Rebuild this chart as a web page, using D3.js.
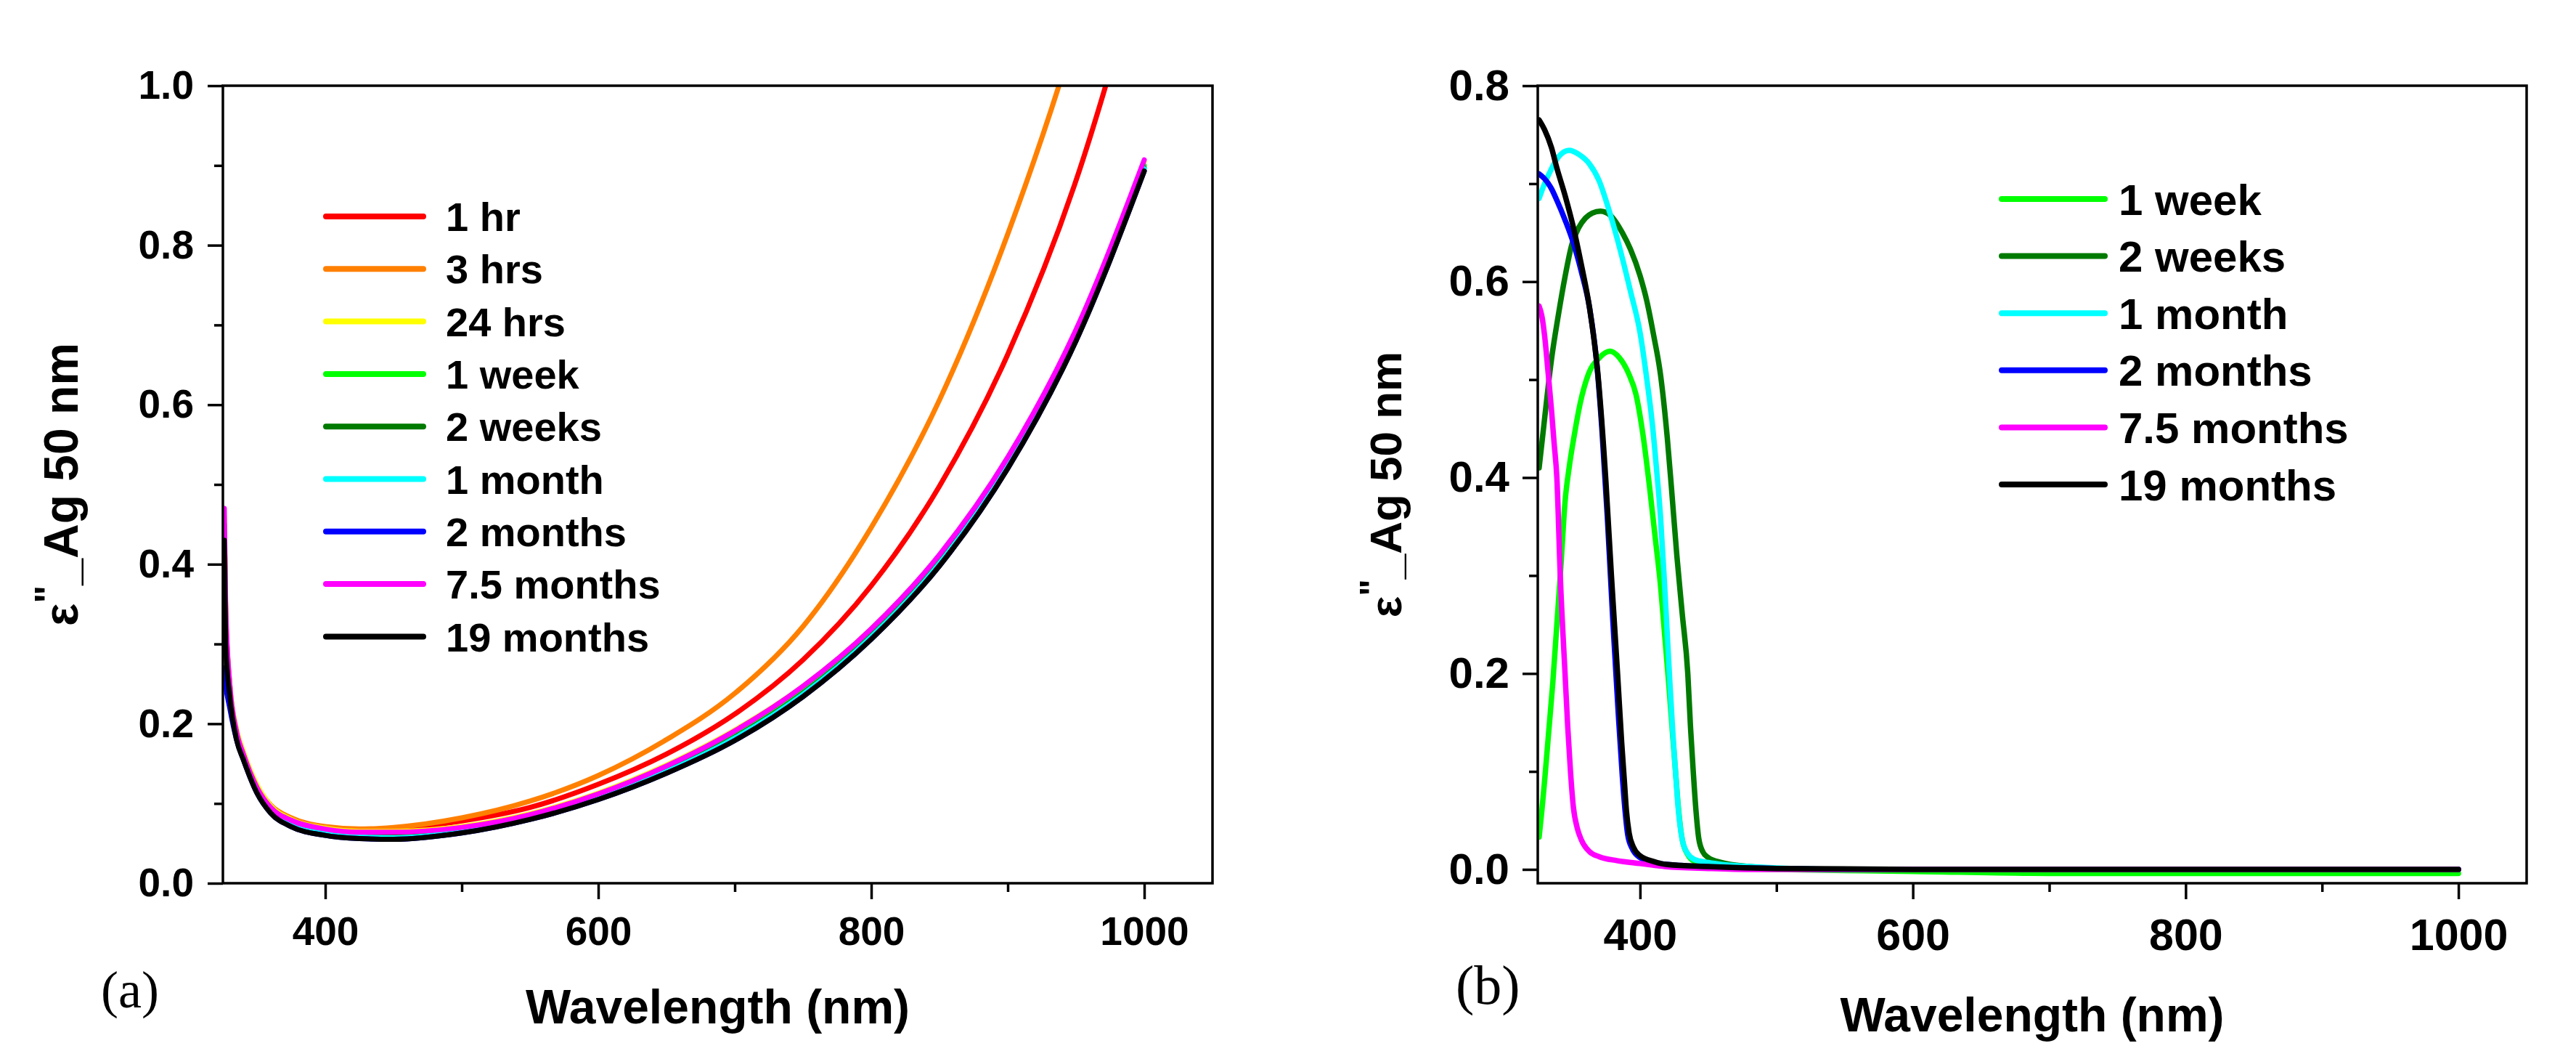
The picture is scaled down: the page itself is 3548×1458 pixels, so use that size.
<!DOCTYPE html>
<html lang="en">
<head>
<meta charset="UTF-8">
<title>Ag 50 nm</title>
<script src="https://d3js.org/d3.v7.min.js"></script>
<style>
  body { margin: 0; background: #fff; }
  svg text { font-family: "Liberation Sans", Arial, sans-serif; font-weight: bold; fill: #000; }
  svg text.tag { font-family: "Liberation Serif", "Times New Roman", serif; font-weight: normal; }
</style>
</head>
<body>
<script>
// ---------- panel (a) : all ageing times ----------
const wlA = [326, 327, 330, 335, 340, 350, 360, 375, 400, 425, 450, 500, 550, 600, 650, 700, 750, 800, 850, 900, 950, 1000];

const aHr1     = [0.45, 0.34, 0.248, 0.19, 0.163, 0.121, 0.096, 0.080, 0.069, 0.066, 0.068, 0.078, 0.095, 0.124, 0.162, 0.212, 0.280, 0.373, 0.498, 0.663, 0.881, 1.17];
const aHrs3    = [0.45, 0.34, 0.25, 0.192, 0.164, 0.122, 0.098, 0.082, 0.071, 0.068, 0.070, 0.082, 0.103, 0.135, 0.180, 0.238, 0.322, 0.446, 0.606, 0.814, 1.07, 1.40];
const aHrs24   = [0.46, 0.345, 0.25, 0.193, 0.165, 0.123, 0.097, 0.080, 0.069, 0.065, 0.065, 0.071, 0.087, 0.113, 0.148, 0.192, 0.247, 0.319, 0.411, 0.532, 0.692, 0.905];
const aWeek1   = [0.45, 0.33, 0.245, 0.186, 0.159, 0.117, 0.092, 0.075, 0.064, 0.060, 0.060, 0.067, 0.083, 0.108, 0.143, 0.186, 0.241, 0.313, 0.405, 0.527, 0.687, 0.900];
const aWeeks2  = [0.44, 0.32, 0.24, 0.183, 0.157, 0.115, 0.090, 0.073, 0.062, 0.058, 0.058, 0.065, 0.082, 0.107, 0.141, 0.183, 0.238, 0.310, 0.402, 0.524, 0.684, 0.897];
const aMonth1  = [0.44, 0.32, 0.24, 0.183, 0.157, 0.115, 0.090, 0.073, 0.062, 0.058, 0.057, 0.065, 0.081, 0.106, 0.140, 0.182, 0.237, 0.309, 0.401, 0.523, 0.683, 0.896];
const aMonths2 = [0.27, 0.25, 0.22, 0.18, 0.155, 0.113, 0.088, 0.071, 0.060, 0.056, 0.055, 0.063, 0.080, 0.105, 0.138, 0.179, 0.234, 0.306, 0.398, 0.520, 0.680, 0.893];
const aMonths75= [0.47, 0.35, 0.25, 0.19, 0.162, 0.120, 0.095, 0.079, 0.068, 0.064, 0.064, 0.070, 0.086, 0.112, 0.147, 0.191, 0.247, 0.319, 0.412, 0.534, 0.694, 0.907];
const aMonths19= [0.43, 0.30, 0.235, 0.18, 0.155, 0.113, 0.088, 0.071, 0.060, 0.056, 0.055, 0.063, 0.080, 0.105, 0.138, 0.179, 0.234, 0.306, 0.398, 0.520, 0.680, 0.893];

const labelsA = ["1 hr", "3 hrs", "24 hrs", "1 week", "2 weeks", "1 month", "2 months", "7.5 months", "19 months"];
const valuesA = [aHr1, aHrs3, aHrs24, aWeek1, aWeeks2, aMonth1, aMonths2, aMonths75, aMonths19];
const colorsA = ["#ff0000", "#ff8000", "#ffff00", "#00ff00", "#007a00", "#00ffff", "#0000ff", "#ff00ff", "#000000"];

// ---------- panel (b) : [wavelength nm, value] ----------
const bWeek1 = [[326,0.033],[328,0.06],[330,0.09],[333,0.14],[336,0.19],[339,0.25],[342,0.31],[345,0.375],[348,0.41],[352,0.445],[356,0.475],[362,0.505],[370,0.522],[378,0.529],[385,0.522],[392,0.505],[397,0.485],[402,0.445],[407,0.39],[411,0.34],[415,0.29],[418,0.24],[421,0.19],[424,0.135],[426,0.1],[428,0.065],[431,0.03],[435,0.015],[440,0.008],[450,0.004],[470,0.001],[500,0],[600,-0.002],[700,-0.004],[1000,-0.004]];
const bWeeks2 = [[326,0.41],[330,0.46],[335,0.52],[340,0.565],[345,0.605],[350,0.638],[355,0.655],[360,0.665],[365,0.67],[371,0.672],[378,0.668],[387,0.65],[393,0.633],[400,0.606],[405,0.58],[410,0.545],[415,0.505],[420,0.44],[423,0.39],[427,0.32],[431,0.26],[435,0.2],[437,0.145],[439,0.1],[441,0.06],[443,0.032],[446,0.018],[450,0.012],[460,0.007],[480,0.003],[500,0.001],[550,0],[1000,0]];
const bMonth1 = [[326,0.685],[330,0.70],[335,0.715],[340,0.727],[348,0.734],[355,0.73],[363,0.72],[370,0.703],[375,0.683],[380,0.66],[387,0.624],[393,0.59],[400,0.548],[405,0.50],[409,0.455],[412,0.41],[415,0.36],[418,0.29],[421.5,0.2],[424,0.14],[426,0.1],[428,0.062],[431,0.03],[435,0.016],[440,0.01],[450,0.007],[460,0.005],[480,0.003],[510,0.001],[550,0],[1000,0]];
const bMonths2 = [[326,0.71],[330,0.705],[335,0.695],[339,0.683],[345,0.663],[351,0.64],[357,0.61],[363,0.573],[368,0.52],[372,0.45],[376,0.36],[380,0.255],[384,0.16],[387,0.095],[389,0.06],[391,0.035],[394,0.022],[400,0.012],[410,0.007],[430,0.004],[460,0.002],[500,0.001],[550,0],[1000,0]];
const bMonths75 = [[326,0.575],[328,0.565],[330,0.545],[332.6,0.507],[335,0.47],[337,0.435],[339,0.40],[341.5,0.30],[345,0.2],[347,0.145],[349,0.1],[351,0.065],[354,0.042],[357,0.03],[363,0.018],[370,0.013],[383,0.009],[400,0.006],[418,0.003],[450,0.001],[480,0],[1000,0]];
const bMonths19 = [[326,0.765],[330,0.755],[335,0.737],[339,0.716],[345,0.688],[351,0.656],[357,0.617],[363,0.573],[369,0.507],[375,0.395],[379,0.3],[383.5,0.2],[386.5,0.13],[388.5,0.09],[390,0.06],[392,0.037],[395,0.023],[400,0.014],[410,0.008],[420,0.005],[450,0.003],[500,0.001],[600,0],[1000,0]];

const labelsB = ["1 week", "2 weeks", "1 month", "2 months", "7.5 months", "19 months"];
const valuesB = [bWeek1, bWeeks2, bMonth1, bMonths2, bMonths75, bMonths19];
const colorsB = ["#00ff00", "#007a00", "#00ffff", "#0000ff", "#ff00ff", "#000000"];

const xTicks = [400, 600, 800, 1000];
const xMinor = [500, 700, 900];

const svg = d3.select("body").append("svg")
    .attr("width", 3548)
    .attr("height", 1458)
    .style("background", "#fff");

function drawPanel(p) {
    const x = d3.scaleLinear().domain([325, 1050]).range([p.left, p.right]);
    const y = d3.scaleLinear().domain(p.yDomain).range([p.bottom, p.top]);
    const g = svg.append("g");

    svg.append("clipPath").attr("id", "clip-" + p.name)
        .append("rect")
        .attr("x", p.left).attr("y", p.top)
        .attr("width", p.right - p.left).attr("height", p.bottom - p.top);

    const line = d3.line()
        .x(d => x(d[0]))
        .y(d => y(d[1]))
        .curve(d3.curveMonotoneX);

    g.append("g").attr("clip-path", `url(#clip-${p.name})`)
        .selectAll("path").data(p.series).join("path")
        .attr("d", d => line(d.points))
        .attr("fill", "none")
        .attr("stroke", d => d.color)
        .attr("stroke-width", p.lineW)
        .attr("stroke-linejoin", "round")
        .attr("stroke-linecap", "round");

    // frame
    g.append("rect")
        .attr("x", p.left).attr("y", p.top)
        .attr("width", p.right - p.left).attr("height", p.bottom - p.top)
        .attr("fill", "none").attr("stroke", "#000").attr("stroke-width", 3.5);

    const styleAxis = (a, fs) => {
        a.select(".domain").remove();
        a.attr("font-family", null).attr("font-size", null);
        a.selectAll("line").attr("stroke", "#000").attr("stroke-width", 3.5);
        a.selectAll("text").attr("font-size", fs).attr("fill", "#000");
    };

    // x axis
    g.append("g").attr("transform", `translate(0,${p.bottom})`)
        .call(d3.axisBottom(x).tickValues(xTicks).tickSize(22).tickSizeOuter(0)
            .tickPadding(p.xPad).tickFormat(d3.format("d")))
        .call(a => styleAxis(a, p.xTickFont));
    g.append("g").attr("transform", `translate(0,${p.bottom})`)
        .call(d3.axisBottom(x).tickValues(xMinor).tickSize(12).tickSizeOuter(0).tickFormat(""))
        .call(a => styleAxis(a, p.xTickFont));

    // y axis
    g.append("g").attr("transform", `translate(${p.left},0)`)
        .call(d3.axisLeft(y).tickValues(p.yTicks).tickSize(21).tickSizeOuter(0)
            .tickPadding(p.yPad).tickFormat(d3.format(".1f")))
        .call(a => styleAxis(a, p.yTickFont));
    g.append("g").attr("transform", `translate(${p.left},0)`)
        .call(d3.axisLeft(y).tickValues(p.yMinor).tickSize(12).tickSizeOuter(0).tickFormat(""))
        .call(a => styleAxis(a, p.yTickFont));

    // axis titles
    g.append("text")
        .attr("x", (p.left + p.right) / 2).attr("y", p.xTitleY)
        .attr("text-anchor", "middle").attr("font-size", p.titleFont)
        .text("Wavelength (nm)");

    const yt = g.append("text")
        .attr("transform", `translate(${p.yTitleX},${(p.top + p.bottom) / 2}) rotate(-90)`)
        .attr("text-anchor", "middle").attr("font-size", p.yTitleFont);
    yt.append("tspan").text("ε");
    yt.append("tspan").attr("dy", -22).attr("font-size", p.yTitleFont * 0.8).text("\"");
    yt.append("tspan").attr("dy", 22).text("_Ag 50 nm");

    // panel tag
    g.append("text").attr("class", "tag")
        .attr("x", p.tagX).attr("y", p.tagY)
        .attr("font-size", p.tagFont)
        .text(p.tag);

    // legend
    const lg = g.append("g").selectAll("g").data(p.series).join("g")
        .attr("transform", (d, i) => `translate(0,${p.legY + i * p.legStep})`);
    lg.append("line")
        .attr("x1", p.legX1).attr("x2", p.legX2)
        .attr("stroke", d => d.color).attr("stroke-width", 8)
        .attr("stroke-linecap", "round");
    lg.append("text")
        .attr("x", p.legText).attr("dy", "0.36em")
        .attr("font-size", p.legFont)
        .text(d => d.label);
}

drawPanel({
    name: "a", tag: "(a)",
    left: 307, right: 1670, top: 118, bottom: 1216,
    yDomain: [0, 1.0],
    yTicks: [0, 0.2, 0.4, 0.6, 0.8, 1.0],
    yMinor: [0.1, 0.3, 0.5, 0.7, 0.9],
    series: labelsA.map((l, i) => ({ label: l, color: colorsA[i], points: wlA.map((w, j) => [w, valuesA[i][j]]) })),
    lineW: 7,
    xPad: 24, yPad: 19, xTickFont: 55, yTickFont: 55,
    titleFont: 66, xTitleY: 1409,
    yTitleFont: 66, yTitleX: 107,
    tagX: 139, tagY: 1387, tagFont: 72,
    legY: 298, legStep: 72.3, legX1: 449, legX2: 583, legText: 614, legFont: 56
});

drawPanel({
    name: "b", tag: "(b)",
    left: 2118, right: 3480, top: 118, bottom: 1216,
    yDomain: [-0.0141, 0.8],
    yTicks: [0, 0.2, 0.4, 0.6, 0.8],
    yMinor: [0.1, 0.3, 0.5, 0.7],
    series: labelsB.map((l, i) => ({ label: l, color: colorsB[i], points: valuesB[i] })),
    lineW: 7.5,
    xPad: 27, yPad: 18, xTickFont: 61, yTickFont: 60,
    titleFont: 66, xTitleY: 1420,
    yTitleFont: 62, yTitleX: 1930,
    tagX: 2005, tagY: 1382, tagFont: 76,
    legY: 274, legStep: 78.6, legX1: 2757, legX2: 2899, legText: 2918, legFont: 60
});
</script>
</body>
</html>
